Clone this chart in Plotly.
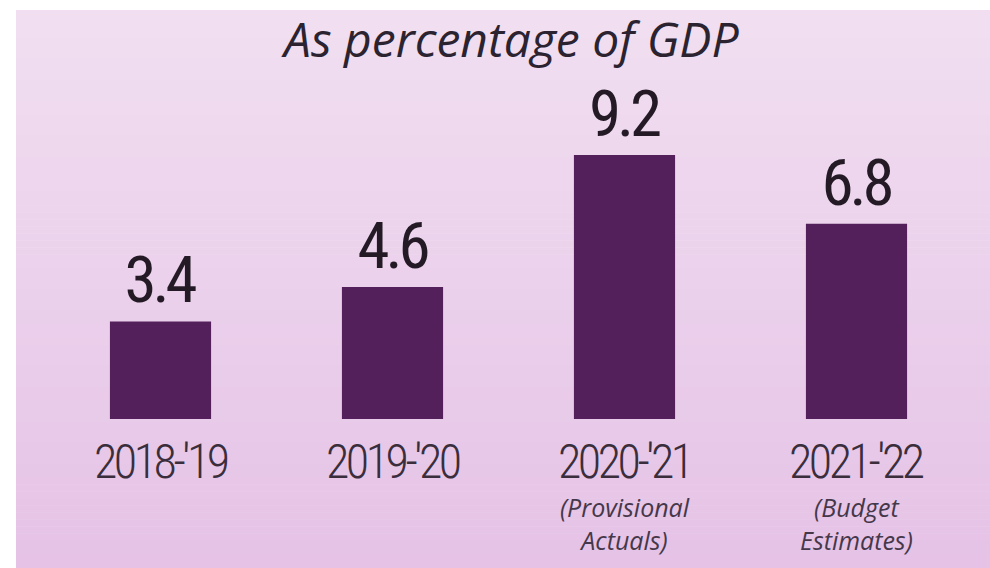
import plotly.graph_objects as go

# Fiscal deficit figures, as percentage of GDP
years = ["2018-'19", "2019-'20", "2020-'21", "2021-'22"]
values = [3.4, 4.6, 9.2, 6.8]
notes = ["", "", "(Provisional<br>Actuals)", "(Budget<br>Estimates)"]
title_text = "As percentage of GDP"

W, H = 990, 568
BAR_COLOR = "#53205b"
COND_FONT = "Roboto Condensed, Liberation Sans Narrow, DejaVu Sans Condensed, sans-serif"
ITALIC_FONT = "Open Sans, Noto Sans, sans-serif"


def py(px):
    """Convert a pixel row (from the top) into paper y."""
    return (H - px) / H


def tight(s, spacing):
    """Wrap text in a span with reduced letter spacing."""
    return f"<span style='letter-spacing:{spacing}px'>{s}</span>"


fig = go.Figure()

fig.add_trace(go.Bar(
    x=years,
    y=values,
    marker=dict(color=BAR_COLOR, line=dict(width=0)),
    width=0.436,
    text=[tight(f"{v:.1f}", -4) for v in values],
    textposition="outside",
    textfont=dict(family=COND_FONT, size=65, color="#241a26"),
    constraintext="none",
    cliponaxis=False,
    hoverinfo="skip",
))

# vertical gradient panel behind the chart
shapes = []
n = 80
top_rgb = (241, 223, 241)
bot_rgb = (229, 194, 230)
y_top, y_bot = py(10), 0.0
for i in range(n):
    t = i / (n - 1)
    c = tuple(round(top_rgb[k] + (bot_rgb[k] - top_rgb[k]) * t) for k in range(3))
    y1 = y_top - (y_top - y_bot) * i / n
    y0 = y_top - (y_top - y_bot) * (i + 1) / n
    shapes.append(dict(
        type="rect", xref="paper", yref="paper",
        x0=16 / W, x1=1.0, y0=y0 - 0.001, y1=y1,
        fillcolor="rgb(%d,%d,%d)" % c, line=dict(width=0), layer="below",
    ))

annotations = [
    dict(text=title_text, xref="paper", yref="paper", x=510 / W, y=py(39),
         xanchor="center", yanchor="middle", showarrow=False,
         font=dict(family=ITALIC_FONT, size=48, color="#2c2330", style="italic")),
]
for yr, note in zip(years, notes):
    annotations.append(dict(
        text=tight(yr, -3.5), xref="x", yref="paper", x=yr, y=py(461),
        xanchor="center", yanchor="middle", showarrow=False,
        font=dict(family=COND_FONT, size=48, weight=300, color="#3a2e3c"),
    ))
    if note:
        annotations.append(dict(
            text=note, xref="x", yref="paper", x=yr, y=py(523),
            xanchor="center", yanchor="middle", showarrow=False,
            font=dict(family=ITALIC_FONT, size=25, color="#45384a", style="italic"),
        ))

fig.update_layout(
    width=W, height=H,
    margin=dict(l=0, r=0, t=0, b=0),
    paper_bgcolor="white",
    plot_bgcolor="rgba(0,0,0,0)",
    showlegend=False,
    bargap=0.564,
    shapes=shapes,
    annotations=annotations,
    xaxis=dict(domain=[44.5 / W, 972.5 / W], range=[-0.5, 3.5],
               showticklabels=False, showgrid=False, zeroline=False,
               showline=False, ticks=""),
    yaxis=dict(domain=[py(419), py(132)], range=[0, 10],
               showticklabels=False, showgrid=False, zeroline=False,
               showline=False, ticks=""),
)

fig.write_html("out.html")
